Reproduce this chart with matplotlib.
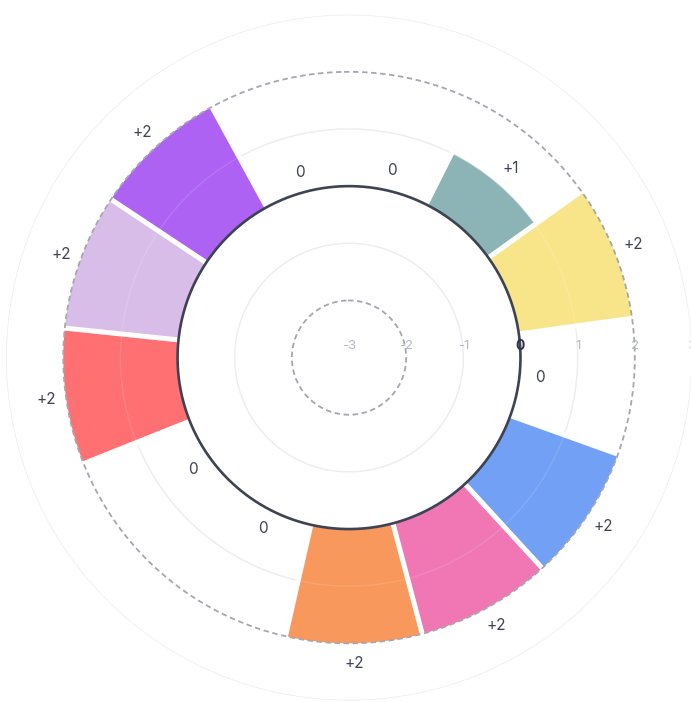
import numpy as np
import matplotlib
matplotlib.use("Agg")
import matplotlib.pyplot as plt

plt.rcParams['font.family'] = ['Inter', 'DejaVu Sans']

# sectors clockwise from the top
values = [0, 1, 2, 0, 2, 2, 2, 0, 0, 2, 2, 2, 0]
colors = ['#cccccc', '#8cb3b6', '#f8e58a', '#cccccc', '#72a0f4', '#f077b3',
          '#f8985c', '#cccccc', '#cccccc', '#fe7072', '#d9bde9', '#ad62f4', '#cccccc']
r_ticks = [-3, -2, -1, 0, 1, 2, 3]
r_tick_labels = ['-3', '-2', '-1', '0', '1', '2', '3']

n = len(values)
width = 2 * np.pi / n
theta = np.arange(n) * width + width / 2

fig = plt.figure(figsize=(6.91, 7.02), dpi=100)
ax = fig.add_axes([0.0087, 0.0021, 0.9928, 0.977], projection='polar')
ax.set_theta_zero_location('N', offset=1.0)
ax.set_theta_direction(-1)
ax.set_rlim(-3, 3)

ax.bar(theta, values, width=width, bottom=0, color=colors, linewidth=0, zorder=1)

# white separators, only where a bar meets its neighbour
for i in range(n):
    top = max(values[i - 1], values[i])
    if top > 0:
        ax.vlines(i * width, 0, top + 0.05, color='white', lw=3.6, zorder=2)

circle = np.linspace(0, 2 * np.pi, 721)
for r in [-1, 1, 3]:
    # light grid, barely showing through the bars
    ax.plot(circle, np.full_like(circle, r), color='#ebebf0', lw=1.0, zorder=0.5,
            solid_capstyle='butt')
    ax.plot(circle, np.full_like(circle, r), color='#ffffff', lw=1.0, alpha=0.12, zorder=3,
            solid_capstyle='butt')
for r in [-2, 2]:
    ax.plot(circle, np.full_like(circle, r), color='#a4a7b0', lw=1.3,
            linestyle=(0, (3, 2)), zorder=3)
ax.plot(circle, np.zeros_like(circle), color='#3d4352', lw=1.9, zorder=4,
        solid_capstyle='butt')

# value labels
for t, v in zip(theta, values):
    txt = '+{}'.format(v) if v > 0 else '0'
    ax.text(t, v + 0.35, txt, ha='center', va='center', fontsize=11,
            color='#3f4451', zorder=5)

# radial tick labels along the east direction
east = np.deg2rad(90 + 1.0)
for r, lab in zip(r_ticks, r_tick_labels):
    bold = r == 0
    ax.annotate(lab, (east, r), xytext=(0, 8), textcoords='offset points',
                ha='center', va='center', fontsize=10 if bold else 9.5,
                color='#2f3440' if bold else '#b4b8c0',
                fontweight='bold' if bold else 'normal', zorder=5,
                annotation_clip=False)

ax.grid(False)
ax.set_xticks([])
ax.set_yticks([])
ax.spines['polar'].set_visible(False)

fig.savefig('out.png', dpi=100)
